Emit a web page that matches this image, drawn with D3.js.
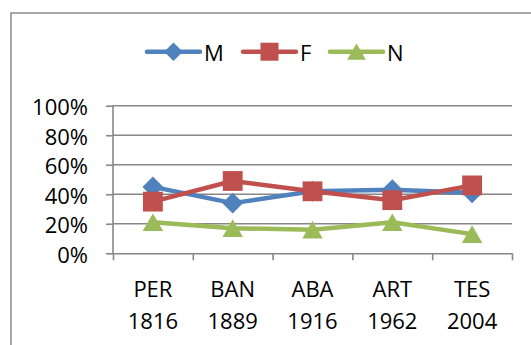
<!DOCTYPE html>
<html>
<head>
<meta charset="utf-8">
<script src="https://cdn.jsdelivr.net/npm/d3@7"></script>
<style>
  html, body { margin: 0; padding: 0; background: #fff; }
  svg { display: block; font-family: "Open Sans", "Noto Sans", sans-serif; }
</style>
</head>
<body>
<svg id="chart" width="531" height="345"></svg>
<script>
// Categories (two-line labels) and share of each series per category
const categories = ["PER", "BAN", "ABA", "ART", "TES"];
const years = ["1816", "1889", "1916", "1962", "2004"];
const seriesNames = ["M", "F", "N"];
const valuesM = [0.45, 0.34, 0.42, 0.43, 0.41];
const valuesF = [0.35, 0.49, 0.42, 0.36, 0.46];
const valuesN = [0.21, 0.17, 0.16, 0.21, 0.13];
const yTicks = [0, 0.2, 0.4, 0.6, 0.8, 1.0];

const colors = { M: "#4F81BD", F: "#C0504D", N: "#9BBB59" };
const symbols = { M: d3.symbolDiamond2, F: d3.symbolSquare2, N: d3.symbolTriangle2 };
const series = [
  { name: "M", values: valuesM },
  { name: "F", values: valuesF },
  { name: "N", values: valuesN }
];

const svg = d3.select("#chart");
const gridColor = "#878787";

// Outer chart frame
svg.append("rect")
  .attr("x", 11).attr("y", 13)
  .attr("width", 540).attr("height", 360)
  .attr("fill", "none").attr("stroke", "#8a8a8a").attr("stroke-width", 1.5);

const plotLeft = 113, plotRight = 512, plotTop = 105.7, plotBottom = 253.3;

const x = d3.scaleBand().domain(categories).range([plotLeft, plotRight]).padding(0);
const y = d3.scaleLinear().domain([0, 1]).range([plotBottom, plotTop]);
const cx = c => x(c) + x.bandwidth() / 2;

// Horizontal gridlines
svg.append("g")
  .selectAll("line")
  .data(yTicks.filter(t => t > 0))
  .join("line")
  .attr("x1", plotLeft).attr("x2", plotRight)
  .attr("y1", d => y(d)).attr("y2", d => y(d))
  .attr("stroke", gridColor).attr("stroke-width", 1.6);

// Value axis
const yAxis = svg.append("g")
  .attr("transform", `translate(${plotLeft},0)`)
  .call(d3.axisLeft(y).tickValues(yTicks).tickSize(7).tickPadding(18)
    .tickFormat(d3.format(".0%")));
yAxis.selectAll("path, line").attr("stroke", gridColor).attr("stroke-width", 1.6);
yAxis.select(".domain").attr("d", `M0,${plotTop}V${plotBottom}`);
yAxis.selectAll("text")
  .attr("font-size", 22).attr("fill", "#000")
  .attr("font-family", "'Open Sans', sans-serif")
  .attr("dy", "0.4em");

// Category axis: ticks at band boundaries
const boundaries = categories.map(c => x(c)).concat([plotRight]);
const xAxisScale = d3.scaleLinear().domain([plotLeft, plotRight]).range([plotLeft, plotRight]);
const xAxis = svg.append("g")
  .attr("transform", `translate(0,${plotBottom})`)
  .call(d3.axisBottom(xAxisScale).tickValues(boundaries).tickSize(7).tickSizeOuter(0).tickFormat(""));
xAxis.selectAll("path, line").attr("stroke", gridColor).attr("stroke-width", 1.6);

const labels = svg.append("g")
  .attr("font-size", 22).attr("fill", "#000").attr("text-anchor", "middle");
labels.selectAll("text.cat")
  .data(categories)
  .join("text")
  .attr("class", "cat")
  .attr("x", d => cx(d)).attr("y", 296.5)
  .text(d => d);
labels.selectAll("text.year")
  .data(years)
  .join("text")
  .attr("class", "year")
  .attr("x", (d, i) => cx(categories[i])).attr("y", 329)
  .text(d => d);

// Series lines and markers
const line = d3.line()
  .x((d, i) => cx(categories[i]))
  .y(d => y(d));

const markerSize = { M: 280, F: 500, N: 300 };
// Triangles are shifted so their bounding box is centred on the point
const markerShift = { M: 0, F: 0, N: 2.9 };

series.forEach(s => {
  svg.append("path")
    .datum(s.values)
    .attr("d", line)
    .attr("fill", "none")
    .attr("stroke", colors[s.name])
    .attr("stroke-width", 4.5)
    .attr("stroke-linejoin", "round")
    .attr("stroke-linecap", "round");
});
series.forEach(s => {
  svg.append("g")
    .selectAll("path")
    .data(s.values)
    .join("path")
    .attr("transform", (d, i) => `translate(${cx(categories[i])},${y(d) + markerShift[s.name]})`)
    .attr("d", d3.symbol().type(symbols[s.name]).size(markerSize[s.name]))
    .attr("fill", colors[s.name]);
});

// Legend
const legendItems = [
  { name: "M", x0: 147, size: 220 },
  { name: "F", x0: 243, size: 413 },
  { name: "N", x0: 330, size: 250 }
];
const legendY = 51.7;
const legend = svg.append("g");
legendItems.forEach(it => {
  const g = legend.append("g");
  g.append("line")
    .attr("x1", it.x0).attr("x2", it.x0 + 53)
    .attr("y1", legendY).attr("y2", legendY)
    .attr("stroke", colors[it.name]).attr("stroke-width", 4.5)
    .attr("stroke-linecap", "round");
  g.append("path")
    .attr("transform", `translate(${it.x0 + 26.5},${legendY + (it.name === "N" ? 2.7 : 0)})`)
    .attr("d", d3.symbol().type(symbols[it.name]).size(it.size))
    .attr("fill", colors[it.name]);
  g.append("text")
    .attr("x", it.x0 + 57).attr("y", 61)
    .attr("font-size", 22).attr("fill", "#000")
    .text(it.name);
});
</script>
</body>
</html>
